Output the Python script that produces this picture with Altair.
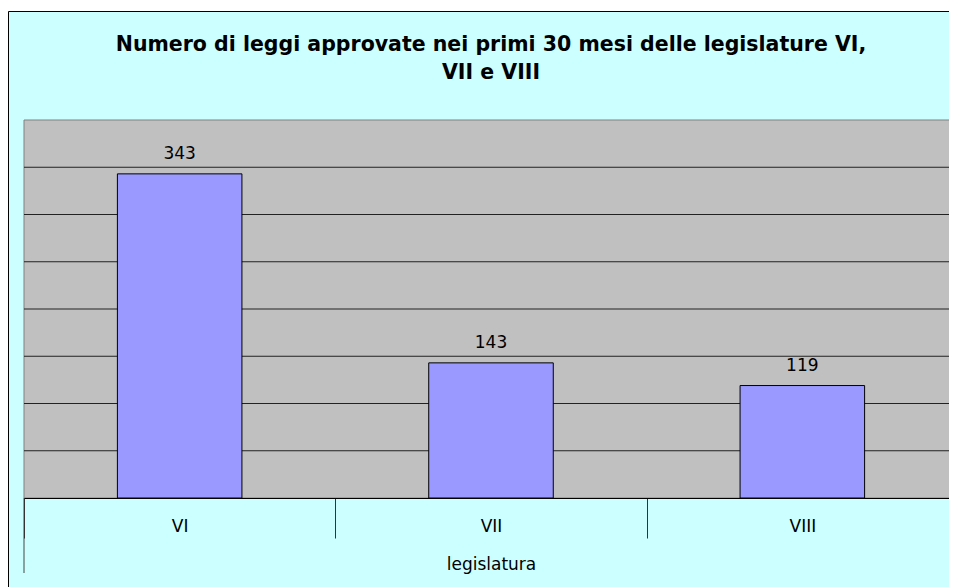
import altair as alt
import pandas as pd

# ---- data ----
categories = ["VI", "VII", "VIII"]
leggi = [343, 143, 119]
grid_values = [50, 100, 150, 200, 250, 300, 350]
title_lines = ["Numero di leggi approvate nei primi 30 mesi delle legislature VI,", "VII e VIII"]
x_title = "legislatura"

W, H = 934, 378
FONT = "DejaVu Sans"

df = pd.DataFrame({"legislatura": categories, "leggi": leggi})
grid_df = pd.DataFrame({"v": grid_values})
one = pd.DataFrame({"k": [0]})

yscale = alt.Scale(domain=[0, 400], nice=False, zero=True)
xscale = alt.Scale(paddingInner=0, paddingOuter=0)

frame = alt.Chart(one).mark_rect(fill="#CCFFFF", stroke="black", strokeWidth=1).encode(
    x=alt.value(-15.5), x2=alt.value(W + 40), y=alt.value(-108.5), y2=alt.value(H + 200))
plotbg = alt.Chart(one).mark_rect(fill="#C0C0C0", stroke="#808080", strokeWidth=1).encode(
    x=alt.value(0), x2=alt.value(W), y=alt.value(0), y2=alt.value(H))
grid = alt.Chart(grid_df).mark_rule(color="#222222", strokeWidth=1).encode(
    y=alt.Y("v:Q", scale=yscale, axis=None), x=alt.value(0), x2=alt.value(W))

xaxis = alt.Axis(
    title=x_title, labelAngle=0, labelFont=FONT, labelFontSize=17, labelColor="black",
    labelBaseline="alphabetic", labelPadding=-7, tickBand="extent", tickSize=40,
    tickColor="#333333", domainColor="black", titleFont=FONT, titleFontSize=17,
    titleFontWeight="normal", titleColor="black", titleY=71, titleBaseline="alphabetic",
    zindex=1, grid=False, labelOverlap=False)

bars = alt.Chart(df).mark_bar(fill="#9999FF", stroke="black", strokeWidth=1,
                              width=alt.RelativeBandSize(0.4)).encode(
    x=alt.X("legislatura:N", sort=categories, scale=xscale, axis=xaxis),
    y=alt.Y("leggi:Q", scale=yscale, axis=None))
labels = alt.Chart(df).mark_text(font=FONT, fontSize=17, color="black", baseline="alphabetic", dy=-15).encode(
    x=alt.X("legislatura:N", sort=categories, scale=xscale, axis=xaxis),
    y=alt.Y("leggi:Q", scale=yscale, axis=None),
    text="leggi:Q")
leftrule = alt.Chart(one).mark_rule(color="#444444", strokeWidth=1).encode(
    x=alt.value(0), y=alt.value(H), y2=alt.value(H + 75))

chart = alt.layer(frame, plotbg, grid, bars, labels, leftrule).properties(
    width=W, height=H,
    title=alt.TitleParams(text=title_lines, font=FONT, fontSize=20.5, fontWeight="bold",
                          color="black", lineHeight=28, anchor="middle", frame="group",
                          offset=0, dy=72),
    padding={"left": 16, "top": 112, "right": -9, "bottom": 100},
    autosize="none",
    background="white",
).configure_view(strokeWidth=0)

chart.save("out.html", embed_options={"renderer": "svg", "actions": False})
